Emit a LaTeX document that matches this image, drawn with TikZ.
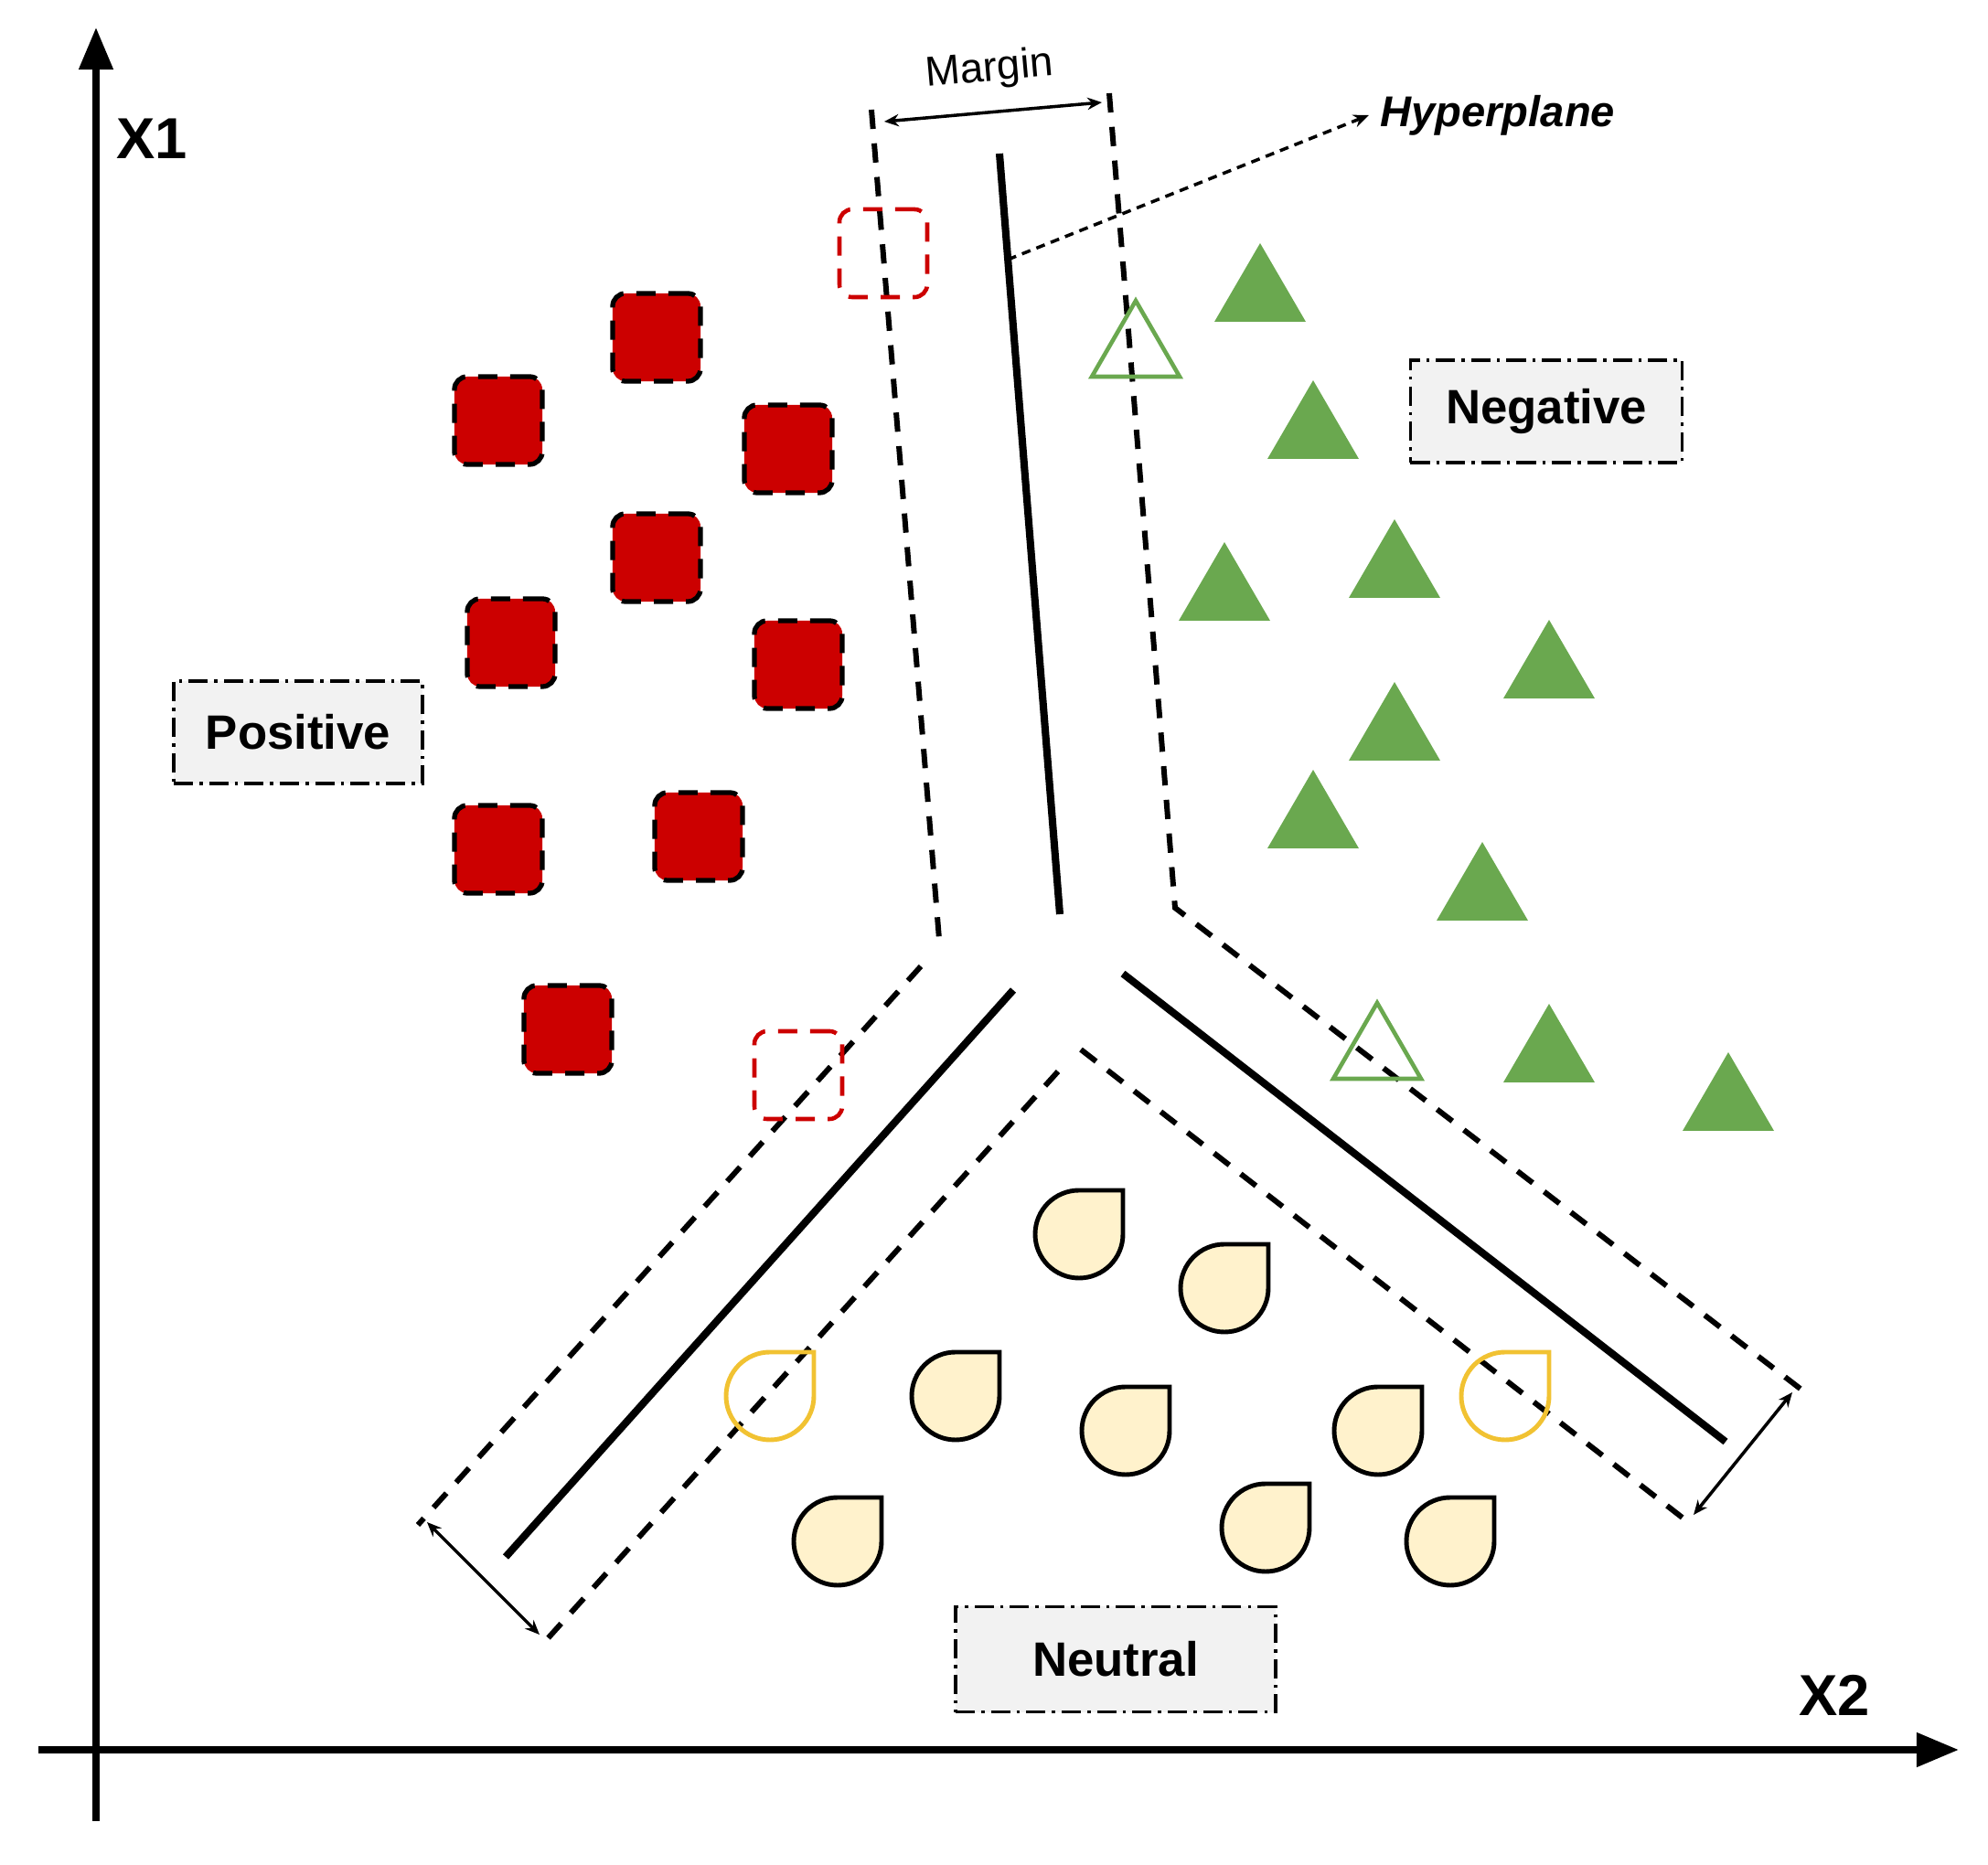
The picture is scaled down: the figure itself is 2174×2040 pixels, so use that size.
\documentclass[tikz,border=0pt]{standalone}
\usepackage{fontspec}
\setmainfont{Liberation Sans}
\usetikzlibrary{arrows.meta}

\definecolor{posred}{HTML}{CC0000}
\definecolor{neggreen}{HTML}{6AA84F}
\definecolor{neufill}{HTML}{FFF2CC}
\definecolor{neuyellow}{HTML}{F1C232}
\definecolor{boxgray}{HTML}{F2F2F2}

\tikzset{
  axisline/.style={line width=2.2pt, -{Triangle[length=0.46cm, width=0.36cm]}},
  hyperline/.style={line width=2.3pt},
  marginline/.style={line width=1.7pt, dash pattern=on 6pt off 4.5pt},
  marginarrow/.style={line width=1pt, {Stealth[length=4.5pt, width=3.8pt]}-{Stealth[length=4.5pt, width=3.8pt]}},
  pointerline/.style={line width=1pt, dash pattern=on 2.8pt off 2pt, -{Stealth[length=4.8pt, width=4pt]}},
  classbox/.style={draw, fill=boxgray, line width=1pt, dash pattern=on 6pt off 2pt on 1pt off 2pt,
    inner sep=0pt, font=\fontsize{15}{18}\selectfont\bfseries},
  possq/.style={draw, rectangle, rounded corners=0.14cm, minimum size=0.96cm, inner sep=0pt,
    fill=posred, line width=1.5pt, dash pattern=on 6pt off 4pt},
  posout/.style={possq, fill=none, draw=posred, line width=1.3pt},
  negtri/.style={fill=neggreen},
  negout/.style={draw=neggreen, line width=1.3pt},
  neudrop/.style={draw, fill=neufill, line width=1.4pt},
  neuout/.style={draw=neuyellow, line width=1.4pt},
}

\begin{document}
\begin{tikzpicture}[x=0.01cm, y=-0.01cm]
    \useasboundingbox (0,0) rectangle (2174,2040);

    % Eixos
    \coordinate (ybot) at (105,1992);
    \coordinate (ytop) at (105,30);
    \coordinate (xleft) at (42,1914);
    \coordinate (xright) at (2142,1914);
    \draw[axisline] (ybot) -- (ytop);
    \draw[axisline] (xleft) -- (xright);
    \node[font=\fontsize{18}{21}\selectfont\bfseries] (labx1) at (166,152) {X1};
    \node[font=\fontsize{18}{21}\selectfont\bfseries] (labx2) at (2006,1854) {X2};

    % Hiperplanos
    \coordinate (h1a) at (1093,168);  \coordinate (h1b) at (1159,1000);
    \coordinate (h2a) at (1108,1083); \coordinate (h2b) at (553,1703);
    \coordinate (h3a) at (1228,1065); \coordinate (h3b) at (1887,1577);
    \draw[hyperline] (h1a) -- (h1b);
    \draw[hyperline] (h2a) -- (h2b);
    \draw[hyperline] (h3a) -- (h3b);

    % Margens
    \coordinate (m1a) at (953,120);  \coordinate (m1b) at (1027,1027);
    \coordinate (m2a) at (1213,102); \coordinate (m2b) at (1285,993); \coordinate (m2c) at (1970,1520);
    \coordinate (m3a) at (1007,1057); \coordinate (m3b) at (457,1668);
    \coordinate (m4a) at (1157,1172); \coordinate (m4b) at (592,1800);
    \coordinate (m5a) at (1182,1148); \coordinate (m5b) at (1850,1668);
    \draw[marginline] (m1a) -- (m1b);
    \draw[marginline] (m2a) -- (m2b) -- (m2c);
    \draw[marginline] (m3a) -- (m3b);
    \draw[marginline] (m4a) -- (m4b);
    \draw[marginline] (m5a) -- (m5b);

    % Setas de margem
    \coordinate (g1a) at (967,133);  \coordinate (g1b) at (1205,112);
    \coordinate (g2a) at (467,1665); \coordinate (g2b) at (590,1788);
    \coordinate (g3a) at (1960,1523); \coordinate (g3b) at (1852,1657);
    \draw[marginarrow] (g1a) -- (g1b);
    \draw[marginarrow] (g2a) -- (g2b);
    \draw[marginarrow] (g3a) -- (g3b);
    \node[font=\fontsize{13}{16}\selectfont, rotate=5] (labmargin) at (1082,77) {Margin};

    % Hiperplano
    \coordinate (pstart) at (1102,284);
    \node[font=\fontsize{13.4}{16}\selectfont\bfseries\itshape, anchor=west] (labhyper) at (1497,126) {Hyperplane};
    \draw[pointerline] (pstart) -- (labhyper.west);

    % Positivos
    \foreach \x/\y [count=\i] in {718/369, 545/460, 862/491, 718/610, 559/703,
                                  873/727, 545/929, 764/915, 621/1126}
        \node[possq] (pos\i) at (\x,\y) {};
    \node[posout] (posa) at (966,277) {};
    \node[posout] (posb) at (873,1176) {};

    % Negativos
    \foreach \x/\y in {1378/266, 1436/416, 1339/593, 1525/568, 1694/678,
                       1525/746, 1436/842, 1621/921, 1694/1098, 1890/1151}
        \path[negtri] (\x,\y) -- ++(50,86) -- ++(-100,0) -- cycle;
    \foreach \x/\y in {1242/327, 1506/1095}
        \draw[negout] (\x,\y+2) -- ++(48,83) -- ++(-96,0) -- cycle;

    % Neutros
    \foreach \x/\y in {1180/1350, 1339/1409, 1045/1527, 1231/1565, 1507/1565,
                       916/1686, 1384/1671, 1586/1686}
        \draw[neudrop] (\x,\y-48) -- (\x+48,\y-48) -- (\x+48,\y)
            arc[start angle=0, end angle=180, radius=48]
            arc[start angle=180, end angle=270, radius=48] -- cycle;
    \foreach \x/\y in {842/1527, 1646/1527}
        \draw[neuout] (\x,\y-48) -- (\x+48,\y-48) -- (\x+48,\y)
            arc[start angle=0, end angle=180, radius=48]
            arc[start angle=180, end angle=270, radius=48] -- cycle;

    % Classes
    \node[classbox, minimum width=2.72cm, minimum height=1.12cm] (positive) at (326,801) {Positive};
    \node[classbox, minimum width=2.97cm, minimum height=1.12cm] (negative) at (1691,450) {Negative};
    \node[classbox, minimum width=3.50cm, minimum height=1.15cm] (neutral) at (1220,1815) {Neutral};
\end{tikzpicture}
\end{document}
